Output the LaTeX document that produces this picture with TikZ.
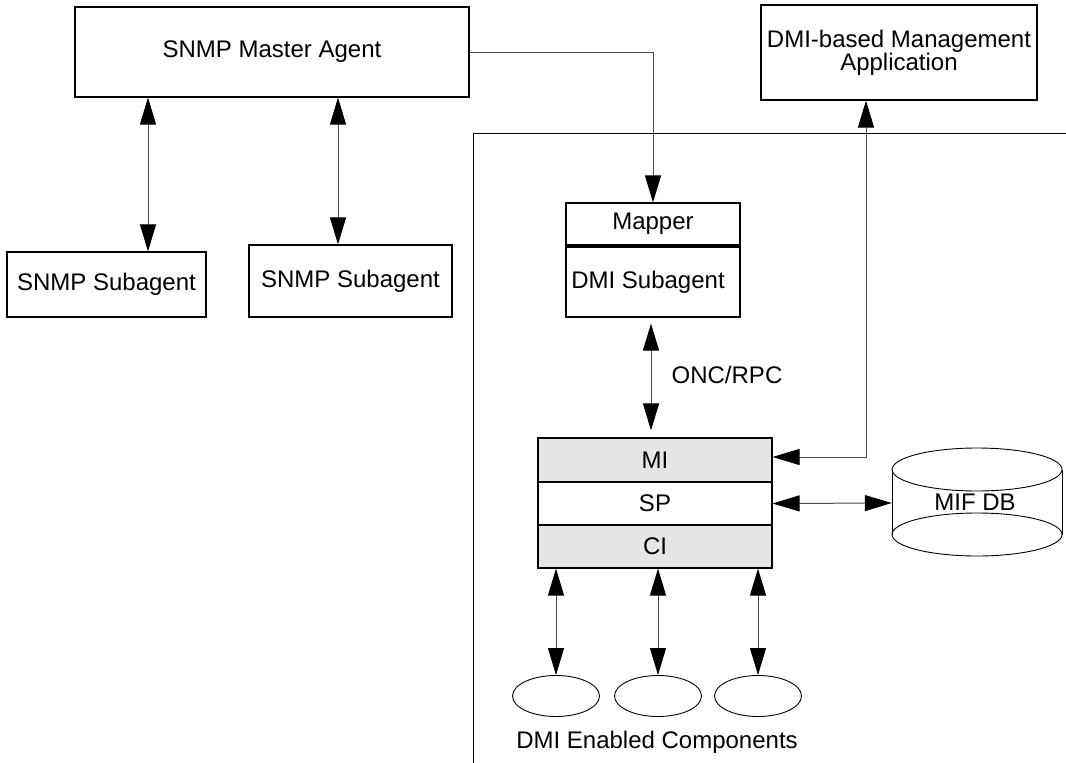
\documentclass[tikz,border=0pt]{standalone}
\usepackage{fontspec}
\setmainfont{Liberation Sans}
\usetikzlibrary{arrows.meta,shapes.geometric}
\begin{document}
\begin{tikzpicture}[x=1pt,y=-1pt,
  box/.style={draw=black,line width=1.1pt,inner sep=0pt,font=\fontsize{24}{27}\selectfont,align=center},
  lbl/.style={inner sep=0pt,font=\fontsize{24}{27}\selectfont},
  conn/.style={draw=black!70,line width=1pt},
  dbl/.style={conn,{Triangle[length=27pt,width=16pt,color=black]}-{Triangle[length=27pt,width=16pt,color=black]}},
  one/.style={conn,-{Triangle[length=27pt,width=16pt,color=black]}},
  comp/.style={draw=black,line width=0.9pt,ellipse,minimum width=87pt,minimum height=41pt,inner sep=0pt}]
\useasboundingbox (0,0) rectangle (1066,763);
% nodes
\node[box,minimum width=394pt,minimum height=90pt] (master) at (272,52) {SNMP Master Agent};
\node[box,minimum width=276pt,minimum height=95pt,font=\fontsize{24}{22}\selectfont] (app) at (899,52.5) {DMI-based Management\\Application};
\node[box,minimum width=199pt,minimum height=65pt] (sub1) at (106.5,284.5) {SNMP Subagent};
\node[box,minimum width=203pt,minimum height=72pt] (sub2) at (350.5,281) {SNMP Subagent};
\node[box,minimum width=174pt,minimum height=42pt] (mapper) at (653,224) {Mapper};
\node[box,minimum width=174pt,minimum height=70pt] (dmisub) at (653,282) {\hspace*{-10pt}DMI Subagent};
\node[box,fill=black!10,minimum width=234pt,minimum height=44pt] (mi) at (655,460) {MI};
\node[box,minimum width=234pt,minimum height=43pt] (sp) at (655,503.5) {SP};
\node[box,fill=black!10,minimum width=234pt,minimum height=43pt] (ci) at (655,546.5) {CI};
\node[lbl] (onc) at (727,375) {ONC/RPC};
% cylinder
\node[inner sep=0pt,minimum width=170pt,minimum height=108pt] (db) at (977,503) {};
\draw[black,line width=0.9pt] (892,469.5) -- (892,534.5) (1062,469.5) -- (1062,534.5);
\draw[black,line width=0.9pt] (977,534.5) ellipse [x radius=85,y radius=21.5];
\draw[black,line width=0.9pt] (977,469.5) ellipse [x radius=85,y radius=21.5];
\node[lbl] (dbt) at (975,502) {MIF DB};
% components
\node[comp] (c1) at (556,696) {};
\node[comp] (c2) at (658,696) {};
\node[comp] (c3) at (758,696) {};
\node[lbl] (ct) at (657,742) {DMI Enabled Components};
% boundary
\draw[black,line width=1pt] (1066,133) -- (473,133) -- (473,763);
% connectors
\coordinate (x1) at (148,0);
\coordinate (x2) at (338,0);
\draw[dbl] (master.south -| x1) -- (sub1.north -| x1);
\draw[dbl] (master.south -| x2) -- (sub2.north -| x2);
\draw[one] (master.east) -| (mapper.north);
\coordinate (x3) at (651,0);
\draw[dbl,shorten <=6pt,shorten >=7pt] (dmisub.south -| x3) -- (mi.north -| x3);
\coordinate (k) at (866,457);
\draw[dbl] (app.south -| k) -- (k) -- (mi.east |- k);
\draw[dbl] (sp.east) -- (db.west);
\draw[dbl] (ci.south -| c1) -- (c1.north);
\draw[dbl] (ci.south -| c2) -- (c2.north);
\draw[dbl] (ci.south -| c3) -- (c3.north);
\end{tikzpicture}
\end{document}
